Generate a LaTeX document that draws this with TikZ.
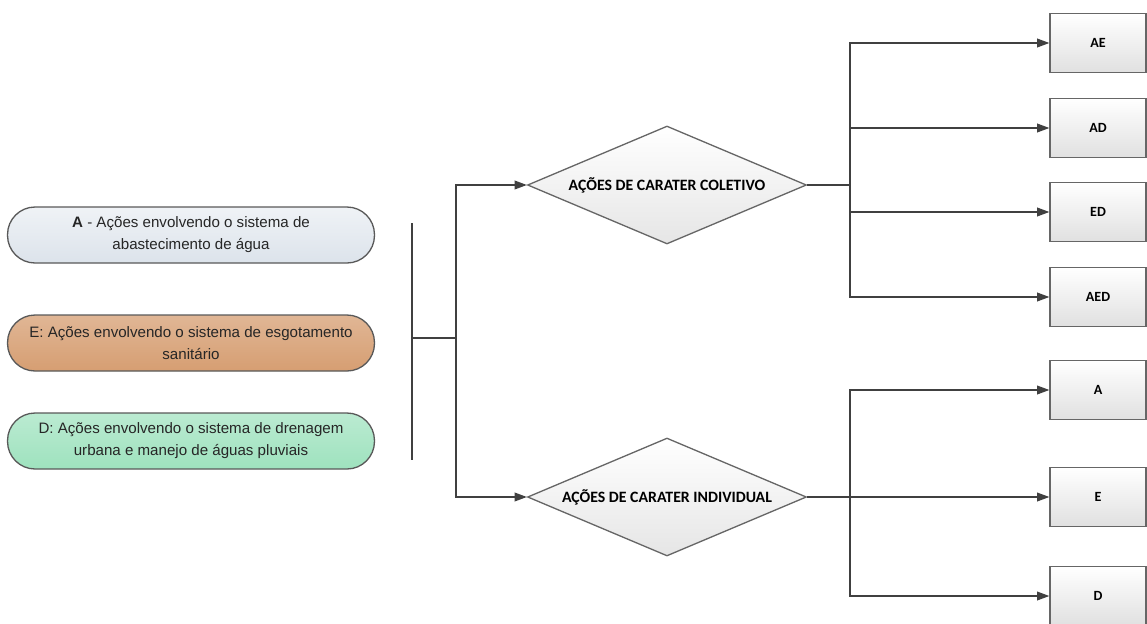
\documentclass[tikz,border=0pt]{standalone}
\usepackage{fontspec}
\setmainfont{Liberation Sans}
\newfontfamily\calibri{Carlito}
\usetikzlibrary{arrows.meta,shapes.geometric}

\definecolor{aguaA}{HTML}{DCE3EB}
\definecolor{esgotoE}{HTML}{D69E72}
\definecolor{drenD}{HTML}{9EE2BE}

\begin{document}
\begin{tikzpicture}[x=0.02cm,y=-0.02cm,>={Triangle[length=7pt,width=5pt]},
                    line width=0.75pt]
  \tikzstyle{pill}=[draw=black!65,rounded corners=0.55cm,minimum width=7.34cm,
                    minimum height=1.12cm,align=center,text=black!85,
                    font=\fontsize{8.6}{12.5}\selectfont]
  \tikzstyle{choice}=[diamond,draw=black!60,aspect=2.36,minimum width=5.58cm,
                      minimum height=2.36cm,inner sep=0pt,top color=white,
                      bottom color=black!10,font=\calibri\bfseries\fontsize{9}{10}\selectfont]
  \tikzstyle{combo}=[draw=black!60,minimum width=1.92cm,minimum height=1.18cm,
                     top color=white,bottom color=black!12,
                     font=\calibri\bfseries\fontsize{8}{9}\selectfont]
  \tikzstyle{wire}=[draw=black!75]

  \useasboundingbox (0,0) rectangle (1147,623);

  % sistemas
  \node[pill,top color=aguaA!45,bottom color=aguaA]     (pA) at (191,235) {\textbf{A} - Ações envolvendo o sistema de\\abastecimento de água};
  \node[pill,top color=esgotoE!75,bottom color=esgotoE] (pE) at (191,343) {E: Ações envolvendo o sistema de esgotamento\\sanitário};
  \node[pill,top color=drenD!70,bottom color=drenD]     (pD) at (191,441) {D: Ações envolvendo o sistema de drenagem\\urbana e manejo de águas pluviais};

  % acoes
  \node[choice] (dC) at (667,185) {AÇÕES DE CARATER COLETIVO};
  \node[choice] (dI) at (667,497) {AÇÕES DE CARATER INDIVIDUAL};

  % combinacoes
  \node[combo] (bAE)  at (1098,43)  {AE};
  \node[combo] (bAD)  at (1098,128) {AD};
  \node[combo] (bED)  at (1098,212) {ED};
  \node[combo] (bAED) at (1098,297) {AED};
  \node[combo] (bA)   at (1098,390) {A};
  \node[combo] (bE)   at (1098,497) {E};
  \node[combo] (bD)   at (1098,596) {D};

  \coordinate (barTop) at (412,223);
  \coordinate (barBot) at (412,460);
  \coordinate (barMid) at (412,338);
  \coordinate (split)  at (456,338);
  \coordinate (jC)     at (850,185);
  \coordinate (jI)     at (850,497);

  \draw[wire] (barTop) -- (barBot);
  \draw[wire] (barMid) -- (split);
  \draw[wire,->] (split) |- (dC.west);
  \draw[wire,->] (split) |- (dI.west);

  \draw[wire] (dC.east) -- (jC);
  \foreach \b in {bAE,bAD,bED,bAED}
    \draw[wire,->] (jC) |- (\b.west);

  \draw[wire,->] (dI.east) -- (bE.west);
  \draw[wire,->] (jI) |- (bA.west);
  \draw[wire,->] (jI) |- (bD.west);
\end{tikzpicture}
\end{document}
